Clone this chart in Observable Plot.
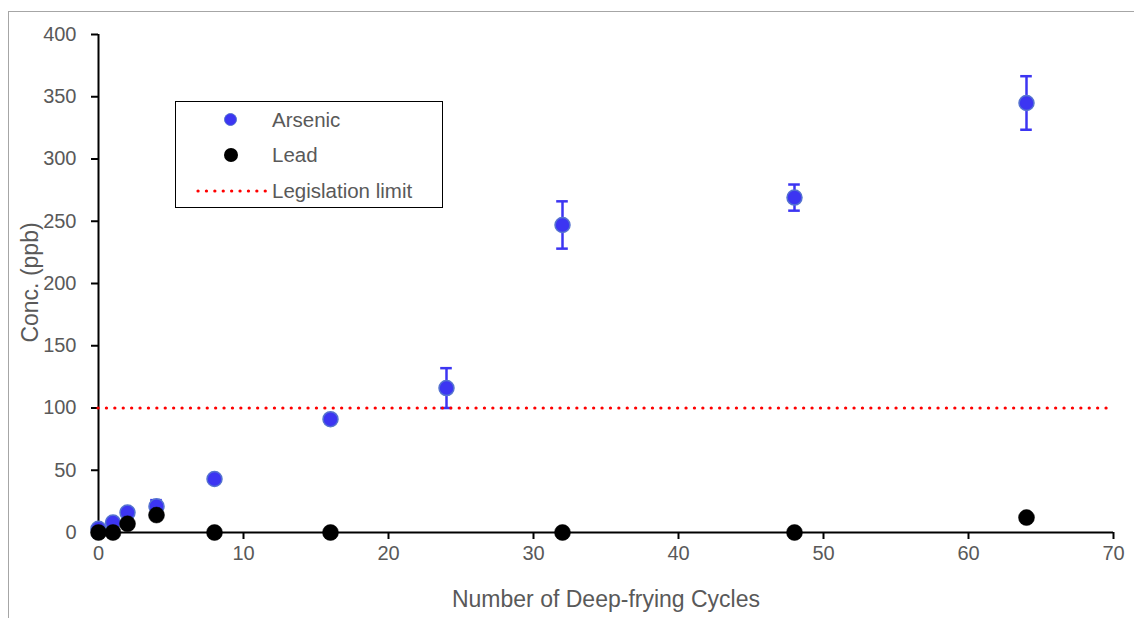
<!DOCTYPE html>
<html>
<head>
<meta charset="utf-8">
<script src="https://cdn.jsdelivr.net/npm/d3@7"></script>
<script src="https://cdn.jsdelivr.net/npm/@observablehq/plot@0.6"></script>
<style>
  html, body { margin: 0; padding: 0; background: #fff; }
  #wrap { position: relative; width: 1134px; height: 618px; overflow: hidden; font-family: "Liberation Sans", Arial, sans-serif; }
  #frame { position: absolute; left: 8px; top: 11px; width: 1200px; height: 700px; border: 1.5px solid #a6a6a6; box-sizing: border-box; }
  #chart { position: absolute; left: 0; top: 0; }
  #legend { position: absolute; left: 175px; top: 101px; width: 268px; height: 107px; border: 1.5px solid #000; box-sizing: border-box; background: #fff; }
  .item { position: absolute; left: 0; height: 24px; width: 100%; }
  .item span { position: absolute; left: 96px; top: 0; line-height: 24px; font-size: 20.5px; color: #595959; white-space: nowrap; }
  .sym { position: absolute; }
  .sym svg { display: block; }
</style>
</head>
<body>
<div id="wrap">
  <div id="frame"></div>
  <div id="chart"></div>
  <div id="legend"></div>
</div>
<script>
// Deep-frying cycles at which oil samples were measured
const cycles = [0, 1, 2, 4, 8, 16, 24, 32, 48, 64];
// Arsenic concentration (ppb) with standard deviation
const arsenic = [3, 8, 16, 21, 43, 91, 116, 247, 269, 345];
const arsenicErr = [1, 1, 2, 5, 2, 3, 16, 19, 10.5, 21.5];
// Lead concentration (ppb)
const lead = [0, 0, 7, 14, 0, 0, null, 0, 0, 12];
// Regulatory limit (ppb)
const limit = 100;
const xTicks = [0, 10, 20, 30, 40, 50, 60, 70];
const yTicks = [0, 50, 100, 150, 200, 250, 300, 350, 400];

const seriesNames = ["Arsenic", "Lead", "Legislation limit"];
const blue = "#3c35f2";
const blueEdge = "#5573d0";
const red = "#ff0000";

const asRows = cycles.map((c, i) => ({x: c, y: arsenic[i], lo: arsenic[i] - arsenicErr[i], hi: arsenic[i] + arsenicErr[i]}));
const pbRows = cycles.map((c, i) => ({x: c, y: lead[i]})).filter(d => d.y != null);
const capHalf = 0.4;

const chart = Plot.plot({
  width: 1134,
  height: 618,
  marginLeft: 98,
  marginRight: 21,
  marginTop: 34,
  marginBottom: 86,
  style: {fontFamily: "'Liberation Sans', Arial, sans-serif", fontSize: "20px", color: "#595959", background: "transparent"},
  x: {domain: [0, 70]},
  y: {domain: [0, 400]},
  marks: [
    Plot.axisY({ticks: yTicks, tickSize: 7, tickPadding: 15, stroke: "#000", strokeWidth: 2, fill: "#595959", label: null}),
    Plot.axisX({ticks: xTicks, tickSize: 7, tickPadding: 6, stroke: "#000", strokeWidth: 2, fill: "#595959", label: null}),
    Plot.ruleX([0], {stroke: "#000", strokeWidth: 2}),
    Plot.ruleY([0], {stroke: "#000", strokeWidth: 2}),
    // error bars for arsenic
    Plot.ruleX(asRows, {x: "x", y1: "lo", y2: "hi", stroke: blue, strokeWidth: 2.5}),
    Plot.ruleY(asRows, {y: "hi", x1: d => d.x - capHalf, x2: d => d.x + capHalf, stroke: blue, strokeWidth: 2.5}),
    Plot.ruleY(asRows, {y: "lo", x1: d => d.x - capHalf, x2: d => d.x + capHalf, stroke: blue, strokeWidth: 2.5}),
    Plot.dot(asRows, {x: "x", y: "y", r: 7.5, fill: blue, stroke: blueEdge, strokeWidth: 1.5}),
    Plot.dot(pbRows, {x: "x", y: "y", r: 8, fill: "#000", stroke: "#000", strokeWidth: 0.5}),
    Plot.ruleY([limit], {stroke: red, strokeWidth: 3.2, strokeDasharray: "0.1 8.3", strokeLinecap: "round"}),
    // axis titles
    Plot.text(["Number of Deep-frying Cycles"], {frameAnchor: "bottom", dy: 74, fill: "#595959", fontSize: 23}),
    Plot.text(["Conc. (ppb)"], {frameAnchor: "left", textAnchor: "middle", dx: -68, dy: -1, rotate: -90, fill: "#595959", fontSize: 23})
  ]
});
document.getElementById("chart").appendChild(chart);

// legend
const legend = document.getElementById("legend");
const rowsTop = [6, 41, 77];
seriesNames.forEach((name, i) => {
  const item = document.createElement("div");
  item.className = "item";
  item.style.top = rowsTop[i] + "px";
  const sym = document.createElement("div");
  sym.className = "sym";
  if (i === 0) {
    Object.assign(sym.style, {left: "48px", top: "5px", width: "11px", height: "11px", borderRadius: "50%", background: blue, border: "1.5px solid " + blueEdge});
  } else if (i === 1) {
    Object.assign(sym.style, {left: "48px", top: "5px", width: "14px", height: "14px", borderRadius: "50%", background: "#000"});
  } else {
    const svg = d3.create("svg").attr("width", 72).attr("height", 6);
    svg.append("line").attr("x1", 2).attr("x2", 70).attr("y1", 3).attr("y2", 3)
      .attr("stroke", red).attr("stroke-width", 3.2).attr("stroke-dasharray", "0.1 8.3").attr("stroke-linecap", "round");
    Object.assign(sym.style, {left: "20px", top: "9px"});
    sym.appendChild(svg.node());
  }
  item.appendChild(sym);
  const label = document.createElement("span");
  label.textContent = name;
  item.appendChild(label);
  legend.appendChild(item);
});
</script>
</body>
</html>
